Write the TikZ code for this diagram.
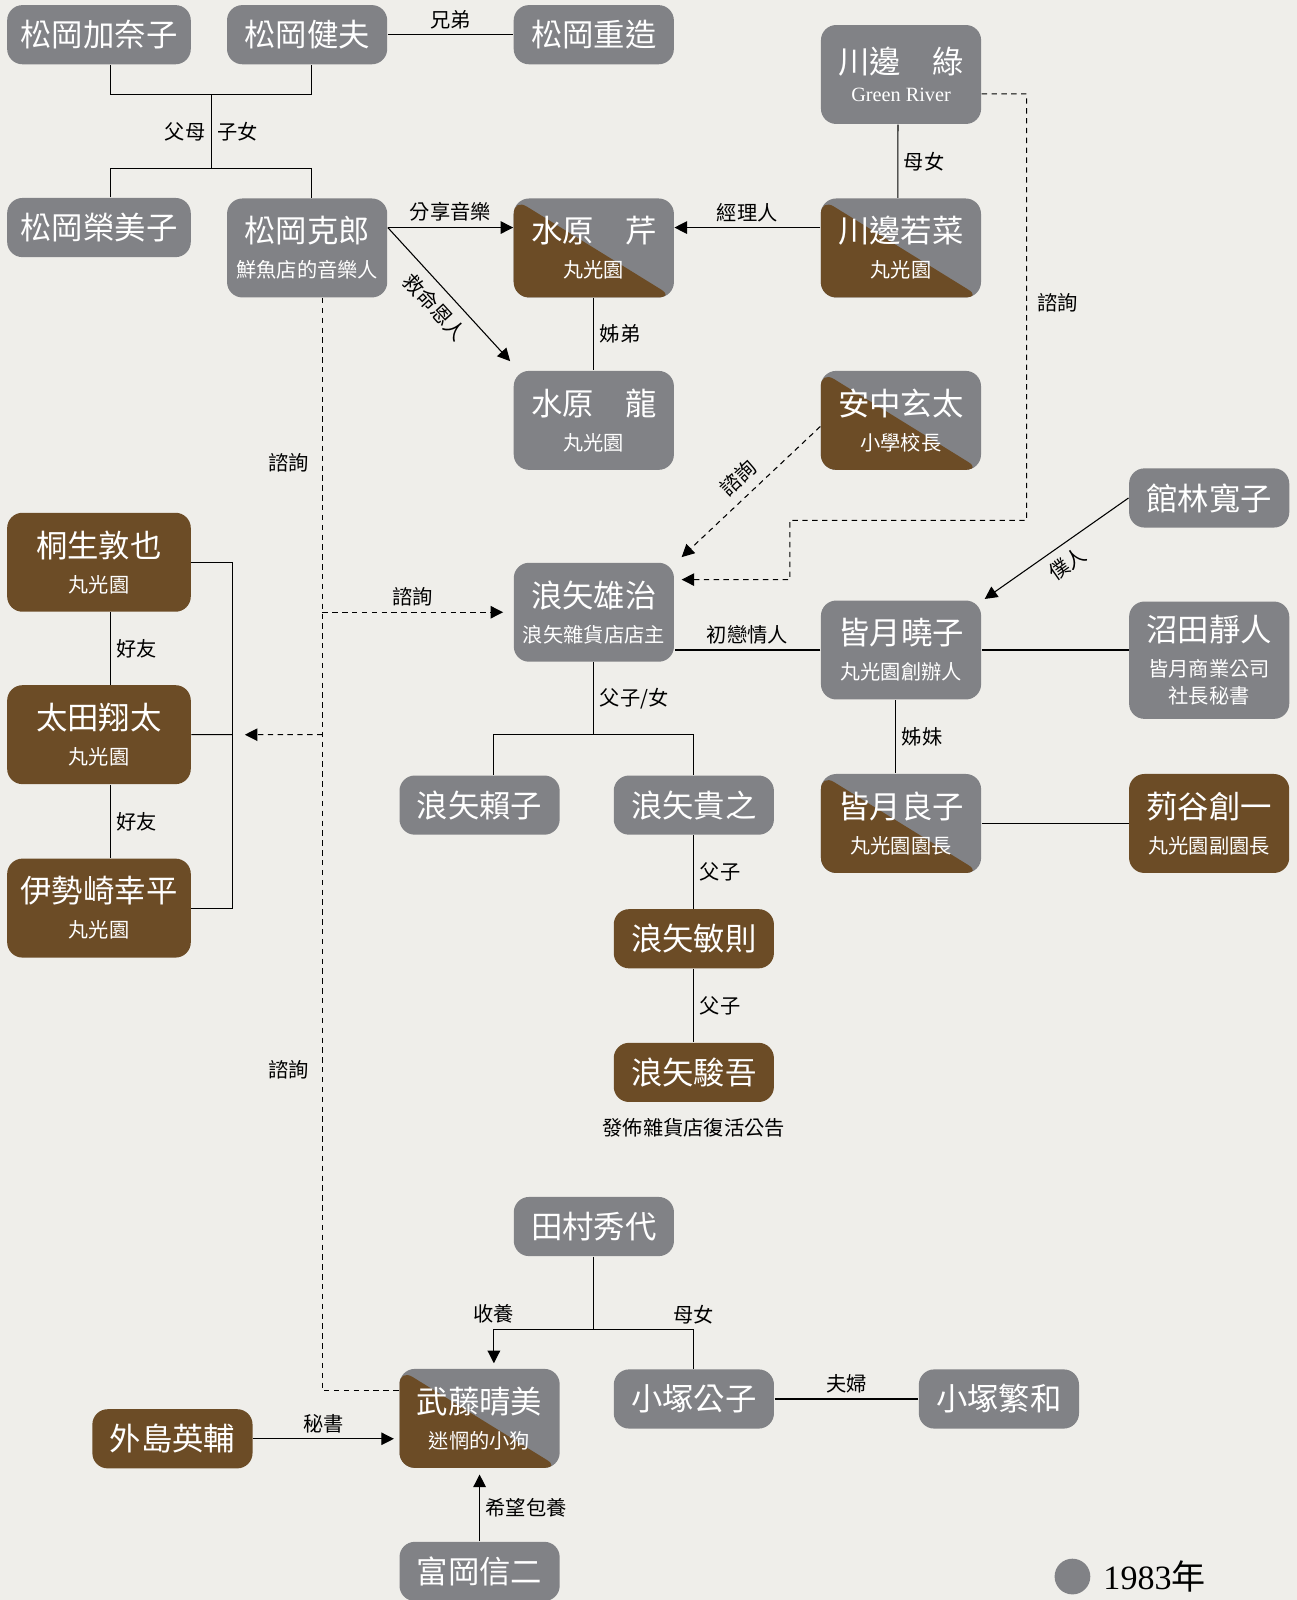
\documentclass[tikz,border=0pt]{standalone}
\usepackage{fontspec}
\setmainfont{Noto Sans CJK TC}
\newfontfamily\latinserif{Liberation Serif}
\usetikzlibrary{positioning,arrows.meta}
\definecolor{paper}{RGB}{239,238,234}
\definecolor{kgray}{RGB}{129,130,134}
\definecolor{kbrown}{RGB}{108,76,38}
\newcommand{\pname}{\fontsize{17.5}{19.5}\selectfont}
\newcommand{\prole}{\fontsize{11.3}{19.5}\selectfont}

\begin{document}
\begin{tikzpicture}[x=0.02cm, y=-0.02cm, >={Triangle[length=7pt,width=7pt]}, line width=0.6pt,
	person/.style={rounded corners=0.3cm, text=white, align=center, inner sep=0pt, minimum width=3.14cm, minimum height=1.16cm, font=\pname},
	grayp/.style={person, fill=kgray},
	brownp/.style={person, fill=kbrown},
	halfp/.style={person, fill=kgray, path picture={\fill[kbrown] (path picture bounding box.north west) -- (path picture bounding box.south east) -- (path picture bounding box.south west) -- cycle;}},
	tall/.style={minimum height=1.94cm},
	wide/.style={minimum width=3.6cm},
	rel/.style={font=\fontsize{11.3}{13}\selectfont, text=black, inner sep=3pt},
	ask/.style={dash pattern=on 3pt off 2.5pt}]
	\path[fill=paper, use as bounding box] (0,0) rectangle (1271,1568);

	% Matsuoka family
	\node[grayp, wide] (kanako) at (97,34) {松岡加奈子};
	\node[grayp] (takeo) [right of=kanako, node distance=4.08cm] {松岡健夫};
	\node[grayp] (juzo) [right of=takeo, node distance=5.62cm] {松岡重造};
	\node[grayp, wide] (emiko) at (97,223) {松岡榮美子};
	\node[grayp, tall] (katsuro) at (301,243) {松岡克郎\\{\prole 鮮魚店的音樂人}};

	% Maruko-en
	\node[grayp, tall] (midori) at (883,73) {川邊　綠\\[-3.5pt]{\latinserif\prole Green River}};
	\node[halfp, tall] (seri) [right of=katsuro, node distance=5.62cm] {水原　芹\\{\prole 丸光園}};
	\node[halfp, tall] (wakana) [right of=seri, node distance=6.02cm] {川邊若菜\\{\prole 丸光園}};
	\node[grayp, tall] (ryu) [below of=seri, node distance=3.38cm] {水原　龍\\{\prole 丸光園}};
	\node[halfp, tall] (anchu) [below of=wakana, node distance=3.38cm] {安中玄太\\{\prole 小學校長}};
	\node[grayp] (tatebayashi) at (1185,488) {館林寬子};
	\node[grayp, tall] (yuji) at (582,600) {浪矢雄治\\{\prole 浪矢雜貨店店主}};
	\node[grayp, tall] (akiko) at (883,637) {皆月曉子\\{\prole 丸光園創辦人}};
	\node[grayp, minimum height=2.3cm] (numata) at (1185,647) {沼田靜人\\{\prole 皆月商業公司}\\[-4.2pt]{\prole 社長秘書}};
	\node[halfp, tall] (yoshiko) at (883,807) {皆月良子\\{\prole 丸光園園長}};
	\node[brownp, tall] (kariya) [right of=yoshiko, node distance=6.04cm] {茢谷創一\\{\prole 丸光園副園長}};

	% friends
	\node[brownp, tall, wide] (kiryu) at (97,551) {桐生敦也\\{\prole 丸光園}};
	\node[brownp, tall, wide] (ota) [below of=kiryu, node distance=3.38cm] {太田翔太\\{\prole 丸光園}};
	\node[brownp, tall, wide] (isezaki) [below of=ota, node distance=3.4cm] {伊勢崎幸平\\{\prole 丸光園}};

	% Namiya family
	\node[grayp] (yoriko) at (470,789) {浪矢賴子};
	\node[grayp] (takayuki) [right of=yoriko, node distance=4.2cm] {浪矢貴之};
	\node[brownp] (toshinori) [below of=takayuki, node distance=2.62cm] {浪矢敏則};
	\node[brownp] (shungo) [below of=toshinori, node distance=2.62cm] {浪矢駿吾};
	\node[rel, below=0.2cm of shungo] (notice) {發佈雜貨店復活公告};

	% Tamura family
	\node[grayp] (tamura) at (582,1202) {田村秀代};
	\node[halfp, tall] (harumi) at (470,1390) {武藤晴美\\{\prole 迷惘的小狗}};
	\node[grayp] (kimiko) at (680,1371) {小塚公子};
	\node[grayp] (shigekazu) [right of=kimiko, node distance=5.98cm] {小塚繁和};
	\node[brownp] (toshima) at (169,1410) {外島英輔};
	\node[grayp] (tomioka) [below of=harumi, node distance=3cm] {富岡信二};

	% legend
	\node[circle, fill=kgray, minimum size=0.7cm, inner sep=0pt] (dot) at (1051,1545) {};
	\node[right=0.12cm of dot, font=\fontsize{19}{21}\selectfont] (year) {{\latinserif 1983}年};

	% top tree
	\coordinate (jtop) at (207,93);
	\coordinate (jbot) at (207,165);
	\draw ([xshift=.22cm]kanako.south) |- (jtop) -| ([xshift=.08cm]takeo.south);
	\draw (jtop) -- (jbot) node[rel, midway, left]{父母} node[rel, midway, right]{子女};
	\draw ([xshift=.22cm]emiko.north) |- (jbot) -| ([xshift=.08cm]katsuro.north);
	\draw (takeo) -- (juzo) node[rel, midway, above]{兄弟};

	\draw[->] ([yshift=.4cm]katsuro.east) -- ([yshift=.4cm]seri.west) node[rel, midway, above]{分享音樂};
	\draw[->] ([yshift=.4cm]wakana.west) -- ([yshift=.4cm]seri.east) node[rel, midway, above]{經理人};
	\draw[->] ([yshift=.4cm]katsuro.east) -- ([shift={(-.06cm,.18cm)}]ryu.north west) node[rel, midway, sloped, below, inner sep=5pt]{救命恩人};
	\draw ([xshift=-.06cm]midori.south) -- ([xshift=-.06cm]wakana.north) node[rel, midway, right]{母女};
	\draw (seri) -- (ryu) node[rel, midway, right]{姊弟};
	\draw[->, ask] ([yshift=-.12cm]anchu.west) -- ([shift={(.14cm,.1cm)}]yuji.north east) node[rel, midway, sloped, above, inner sep=5pt]{諮詢};
	\draw[->, ask] ([yshift=-.38cm]midori.east) -| (1006,510) node[rel, pos=.745, right, xshift=.1cm]{諮詢} -| (774,568) -- ([shift={(.14cm,.64cm)}]yuji.east);

	\draw[->] (tatebayashi.west) -- ([shift={(.06cm,.02cm)}]akiko.north east) node[rel, midway, sloped, below, inner sep=5pt]{僕人};
	\draw (akiko.west) -- (akiko.west -| yuji.east) node[rel, midway, above]{初戀情人};
	\draw (akiko.east) -- (akiko.east -| numata.west);
	\draw ([xshift=-.1cm]akiko.south) -- ([xshift=-.1cm]yoshiko.north) node[rel, midway, right]{姊妹};
	\draw (yoshiko) -- (kariya);

	% friends bracket
	\draw ([xshift=.22cm]kiryu.south) -- ([xshift=.22cm]ota.north) node[rel, midway, right]{好友};
	\draw ([xshift=.22cm]ota.south) -- ([xshift=.22cm]isezaki.north) node[rel, midway, right]{好友};
	\coordinate (brk) at (228,720);
	\draw (kiryu.east) -| (brk) |- (isezaki.east);
	\draw (ota.east) -- (brk);

	% consultations
	\coordinate (cline) at ([xshift=.3cm]katsuro.south);
	\draw[ask] (cline) |- ([yshift=.54cm]harumi.west) node[rel, pos=.0755, left, xshift=-.15cm]{諮詢} node[rel, pos=.353, left, xshift=-.15cm]{諮詢};
	\draw[->, ask] (cline |- yuji.west) -- ([xshift=-.2cm]yuji.west) node[rel, midway, above]{諮詢};
	\draw[->, ask] (cline |- ota.east) -- ([xshift=.24cm]brk);

	% Namiya tree
	\coordinate (jmid) at (582,720);
	\draw (yuji.south) -- (jmid) node[rel, midway, right]{父子/女};
	\draw ([xshift=.28cm]yoriko.north) |- (jmid) -| (takayuki.north);
	\draw (takayuki) -- (toshinori) node[rel, midway, right]{父子};
	\draw (toshinori) -- (shungo) node[rel, midway, right]{父子};

	% Tamura tree
	\coordinate (jlow) at (582,1303);
	\draw (tamura) -- (jlow);
	\draw[->] (jlow) -| ([shift={(.28cm,.1cm)}]harumi.north) node[rel, pos=.5, above]{收養};
	\draw (jlow) -| (kimiko.north) node[rel, pos=.5, above]{母女};
	\draw (kimiko) -- (shigekazu) node[rel, midway, above]{夫婦};
	\draw[->] (toshima) -- ([xshift=-.1cm]harumi.west |- toshima.east) node[rel, midway, above]{秘書};
	\draw[->] (tomioka) -- ([yshift=-.12cm]harumi.south) node[rel, midway, right]{希望包養};
\end{tikzpicture}
\end{document}
